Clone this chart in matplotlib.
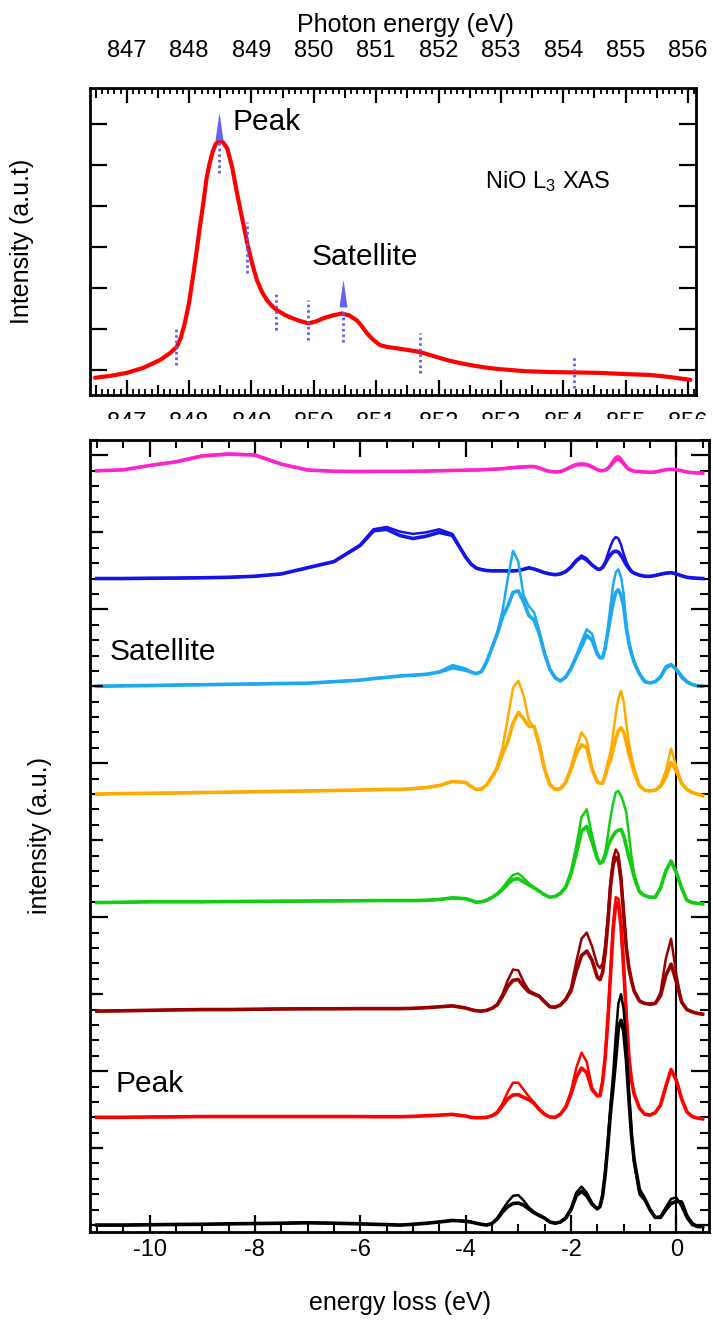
import numpy as np
import matplotlib
matplotlib.use("Agg")
import matplotlib.pyplot as plt
from matplotlib.ticker import MultipleLocator, FixedLocator, NullLocator, FormatStrFormatter
from matplotlib.patches import Rectangle

plt.rcParams['font.family'] = ['Liberation Sans', 'DejaVu Sans']
plt.rcParams['mathtext.fontset'] = 'custom'
plt.rcParams['mathtext.rm'] = 'Liberation Sans'
plt.rcParams['mathtext.it'] = 'Liberation Sans:italic'
plt.rcParams['mathtext.bf'] = 'Liberation Sans:bold'
plt.rcParams['axes.unicode_minus'] = False

# ---------------- NiO L3 XAS ----------------
xas_energy = [846.49, 846.75, 847.0, 847.26, 847.53, 847.70, 847.80, 847.87, 847.93, 848.00,
              848.06, 848.12, 848.17, 848.23, 848.28, 848.33, 848.38, 848.43, 848.48, 848.54,
              848.61, 848.69, 848.77, 848.85, 848.93, 849.01, 849.09, 849.17, 849.25, 849.33,
              849.41, 849.54, 849.66, 849.79, 849.91, 850.03, 850.15, 850.30, 850.45, 850.57,
              850.69, 850.77, 850.85, 850.95, 851.06, 851.18, 851.33, 851.50, 851.70, 851.92,
              852.14, 852.37, 852.59, 852.80, 852.99, 853.40, 853.79, 854.20, 854.59, 855.00,
              855.39, 855.70, 856.04]
xas_intensity = [0.81, 0.86, 0.93, 1.05, 1.24, 1.42, 1.56, 1.80, 2.14, 2.65,
                 3.26, 3.90, 4.47, 5.10, 5.68, 6.05, 6.34, 6.52, 6.60, 6.56,
                 6.41, 5.95, 5.30, 4.70, 4.11, 3.60, 3.18, 2.90, 2.70, 2.56,
                 2.46, 2.34, 2.26, 2.19, 2.14, 2.18, 2.26, 2.33, 2.38, 2.33,
                 2.21, 2.07, 1.90, 1.74, 1.61, 1.56, 1.53, 1.49, 1.44, 1.34,
                 1.24, 1.16, 1.10, 1.05, 1.02, 0.97, 0.95, 0.94, 0.93, 0.90,
                 0.88, 0.83, 0.76]

# excitation energies used for the RIXS spectra
exc_energy = [847.79, 848.48, 848.93, 849.40, 849.91, 850.47, 851.70, 854.17]
exc_low = [1.12, 5.80, 3.37, 1.98, 1.73, 1.68, 0.93, 0.56]
exc_high = [2.05, 6.61, 4.60, 2.90, 2.70, 2.49, 1.90, 1.37]

# peak and satellite arrows
arrow_energy = [848.48, 850.47]
arrow_base = [6.61, 2.54]

# ---------------- RIXS spectra: energy-loss grid ----------------
loss = [-11.0, -10.5, -10.0, -9.5, -9.0, -8.5, -8.0, -7.5, -7.0, -6.5, -6.0,
        -5.75, -5.5, -5.25, -5.0, -4.75, -4.5, -4.25, -4.0,
        -3.9, -3.8, -3.7, -3.6, -3.5, -3.4, -3.3, -3.2, -3.1, -3.0, -2.9, -2.8, -2.7, -2.6, -2.5,
        -2.4, -2.3, -2.2, -2.1, -2.0, -1.9, -1.8, -1.7, -1.6, -1.5,
        -1.45, -1.4, -1.35, -1.3, -1.25, -1.2, -1.15, -1.1, -1.05, -1.0, -0.95, -0.9, -0.85, -0.8,
        -0.7, -0.6, -0.5, -0.4, -0.3, -0.2, -0.1, 0.0, 0.1, 0.2, 0.3, 0.4, 0.5]

# two scans per excitation energy (a, b), intensity above each baseline
pink_a = [0.0, 0.06, 0.35, 0.6, 1.0, 1.12, 1.05, 0.45, 0.05, -0.03, -0.05,
          -0.04, -0.04, -0.04, -0.03, -0.02, 0.0, 0.02, 0.04,
          0.05, 0.05, 0.06, 0.08, 0.1, 0.13, 0.15, 0.2, 0.23, 0.26, 0.28, 0.3, 0.3, 0.2, 0.05,
          -0.04, -0.08, -0.05, 0.1, 0.3, 0.45, 0.48, 0.45, 0.3, 0.08,
          0.02, 0.0, 0.05, 0.18, 0.4, 0.68, 0.9, 0.95, 0.8, 0.55, 0.3, 0.12, 0.02, -0.03,
          -0.05, -0.08, -0.1, -0.08, 0.0, 0.07, 0.1, 0.07, 0.0, -0.08, -0.12, -0.14, -0.15]
pink_b = [0.0, 0.06, 0.34, 0.58, 0.96, 1.08, 1.02, 0.43, 0.05, -0.03, -0.05,
          -0.04, -0.04, -0.04, -0.03, -0.02, 0.0, 0.02, 0.04,
          0.05, 0.05, 0.06, 0.08, 0.1, 0.12, 0.13, 0.17, 0.2, 0.22, 0.24, 0.27, 0.27, 0.18, 0.05,
          -0.04, -0.08, -0.05, 0.08, 0.25, 0.38, 0.4, 0.38, 0.25, 0.07,
          0.02, 0.0, 0.05, 0.15, 0.32, 0.55, 0.7, 0.73, 0.62, 0.45, 0.25, 0.1, 0.02, -0.03,
          -0.05, -0.08, -0.1, -0.08, 0.0, 0.07, 0.1, 0.07, 0.0, -0.08, -0.12, -0.14, -0.15]

blue_a = [0.0, 0.0, 0.02, 0.03, 0.05, 0.08, 0.15, 0.3, 0.7, 1.1, 2.2,
          3.2, 3.35, 3.05, 2.9, 3.0, 3.2, 2.9, 1.4,
          0.95, 0.68, 0.58, 0.52, 0.5, 0.5, 0.5, 0.5, 0.5, 0.52, 0.6, 0.7, 0.62, 0.5, 0.38,
          0.3, 0.25, 0.3, 0.45, 0.75, 1.2, 1.5, 1.3, 0.9, 0.62,
          0.6, 0.75, 1.1, 1.6, 2.1, 2.5, 2.7, 2.6, 2.2, 1.6, 1.1, 0.75, 0.5, 0.35,
          0.22, 0.15, 0.14, 0.2, 0.28, 0.35, 0.38, 0.3, 0.18, 0.08, 0.04, 0.02, 0.0]
blue_b = [0.0, 0.0, 0.02, 0.03, 0.05, 0.08, 0.15, 0.3, 0.7, 1.1, 2.15,
          3.1, 3.2, 2.8, 2.6, 2.75, 3.0, 2.8, 1.4,
          0.95, 0.68, 0.58, 0.52, 0.5, 0.5, 0.5, 0.5, 0.5, 0.52, 0.6, 0.7, 0.62, 0.5, 0.38,
          0.3, 0.25, 0.3, 0.45, 0.75, 1.15, 1.4, 1.2, 0.88, 0.62,
          0.6, 0.72, 1.0, 1.3, 1.55, 1.72, 1.78, 1.72, 1.5, 1.2, 0.9, 0.65, 0.45, 0.35,
          0.22, 0.15, 0.14, 0.2, 0.28, 0.35, 0.38, 0.3, 0.18, 0.08, 0.04, 0.02, 0.0]

cyan_a = [0.0, 0.03, 0.05, 0.08, 0.1, 0.13, 0.15, 0.18, 0.2, 0.3, 0.4,
          0.5, 0.58, 0.67, 0.72, 0.78, 0.95, 1.38, 1.15,
          0.95, 0.82, 0.95, 1.6, 2.5, 3.5, 4.9, 7.0, 8.8, 8.1, 5.9, 5.2, 4.8, 3.6, 2.2,
          1.1, 0.55, 0.35, 0.6, 1.2, 2.0, 2.9, 3.7, 3.4, 2.2,
          1.85, 1.85, 2.6, 3.8, 5.2, 6.6, 7.4, 7.6, 7.1, 6.0, 4.0, 2.9, 2.2, 1.6,
          0.8, 0.3, 0.22, 0.3, 0.65, 1.3, 1.45, 1.05, 0.55, 0.25, 0.1, 0.03, 0.0]
cyan_b = [0.0, 0.03, 0.05, 0.08, 0.1, 0.13, 0.15, 0.18, 0.2, 0.3, 0.4,
          0.5, 0.58, 0.67, 0.72, 0.78, 0.92, 1.2, 1.05,
          0.92, 0.82, 0.95, 1.6, 2.5, 3.4, 4.5, 5.2, 6.1, 6.2, 5.5, 4.6, 4.3, 3.4, 2.1,
          1.1, 0.55, 0.35, 0.6, 1.15, 1.9, 2.6, 3.3, 3.0, 2.1,
          1.85, 1.85, 2.5, 3.5, 4.5, 5.4, 6.1, 6.27, 5.9, 5.2, 3.8, 2.8, 2.1, 1.55,
          0.8, 0.3, 0.22, 0.3, 0.6, 1.2, 1.4, 1.1, 0.65, 0.3, 0.12, 0.03, 0.0]

orange_a = [0.0, 0.03, 0.05, 0.07, 0.1, 0.12, 0.15, 0.18, 0.2, 0.23, 0.26,
            0.28, 0.3, 0.3, 0.35, 0.42, 0.55, 0.82, 0.75,
            0.5, 0.3, 0.32, 0.6, 1.1, 1.8, 3.0, 4.9, 6.9, 7.36, 6.4, 4.8, 4.3, 3.0, 1.6,
            0.6, 0.3, 0.35, 0.8, 1.8, 3.0, 4.0, 3.5, 1.7, 0.8,
            0.7, 0.7, 1.3, 2.1, 2.7, 3.9, 5.2, 6.2, 6.7, 6.0, 4.6, 3.3, 2.4, 1.7,
            0.55, 0.25, 0.2, 0.25, 0.6, 1.5, 2.95, 1.8, 0.7, 0.3, 0.1, 0.0, -0.1]
orange_b = [0.0, 0.03, 0.05, 0.07, 0.1, 0.12, 0.15, 0.18, 0.2, 0.23, 0.26,
            0.28, 0.3, 0.3, 0.35, 0.42, 0.55, 0.82, 0.75,
            0.5, 0.3, 0.32, 0.6, 1.1, 1.7, 2.6, 3.4, 4.6, 5.3, 4.9, 4.4, 4.4, 3.2, 1.6,
            0.6, 0.3, 0.35, 0.75, 1.6, 2.6, 3.2, 3.0, 1.6, 0.8,
            0.7, 0.7, 1.2, 1.8, 2.2, 2.9, 3.6, 4.1, 4.3, 4.0, 3.4, 2.6, 2.0, 1.4,
            0.55, 0.25, 0.2, 0.25, 0.5, 1.1, 2.05, 1.5, 0.7, 0.3, 0.1, 0.0, -0.1]

green_a = [-0.05, -0.03, 0.0, 0.0, 0.0, 0.02, 0.03, 0.04, 0.05, 0.06, 0.07,
           0.08, 0.08, 0.08, 0.08, 0.1, 0.15, 0.28, 0.22,
           0.1, -0.03, 0.0, 0.1, 0.28, 0.55, 0.9, 1.35, 1.75, 1.84, 1.55, 1.2, 0.95, 0.7, 0.45,
           0.3, 0.35, 0.55, 1.0, 2.0, 3.6, 5.5, 6.0, 4.3, 2.9,
           2.5, 2.7, 3.2, 4.3, 5.5, 6.4, 7.1, 7.2, 6.9, 6.4, 5.8, 4.4, 2.9, 1.8,
           0.65, 0.4, 0.3, 0.3, 0.9, 2.0, 2.65, 1.9, 0.9, 0.1, -0.05, -0.1, -0.13]
green_b = [-0.05, -0.03, 0.0, 0.0, 0.0, 0.02, 0.03, 0.04, 0.05, 0.06, 0.07,
           0.08, 0.08, 0.08, 0.08, 0.1, 0.15, 0.25, 0.2,
           0.1, -0.03, 0.0, 0.1, 0.28, 0.5, 0.8, 1.15, 1.45, 1.5, 1.3, 1.1, 0.9, 0.68, 0.45,
           0.3, 0.35, 0.55, 0.95, 1.8, 3.1, 4.6, 4.9, 3.9, 2.8,
           2.5, 2.6, 3.0, 3.6, 4.0, 4.3, 4.55, 4.65, 4.7, 4.3, 3.6, 2.9, 2.3, 1.6,
           0.65, 0.4, 0.3, 0.3, 0.9, 2.0, 2.65, 1.9, 0.9, 0.1, -0.05, -0.1, -0.13]

dred_a = [-0.1, -0.08, -0.05, -0.02, 0.0, 0.0, 0.02, 0.04, 0.05, 0.05, 0.06,
          0.06, 0.06, 0.06, 0.08, 0.12, 0.18, 0.24, 0.1,
          0.0, -0.08, -0.1, -0.05, 0.08, 0.35, 1.0, 1.9, 2.6, 2.55, 1.8, 1.25, 1.05, 0.9, 0.5,
          0.18, 0.15, 0.3, 0.7, 1.4, 3.1, 4.6, 5.0, 4.1, 2.9,
          2.7, 3.0, 4.2, 6.0, 8.3, 9.8, 10.4, 10.1, 8.7, 6.4, 4.2, 2.8, 1.9, 1.2,
          0.55, 0.4, 0.35, 0.4, 1.1, 3.3, 4.6, 2.3, 0.45, 0.0, -0.15, -0.25, -0.3]
dred_b = [-0.1, -0.08, -0.05, -0.02, 0.0, 0.0, 0.02, 0.04, 0.05, 0.05, 0.06,
          0.06, 0.06, 0.06, 0.08, 0.12, 0.18, 0.24, 0.1,
          0.0, -0.08, -0.1, -0.05, 0.08, 0.3, 0.85, 1.5, 1.9, 1.95, 1.5, 1.15, 1.0, 0.85, 0.5,
          0.18, 0.15, 0.3, 0.65, 1.2, 2.5, 3.5, 3.8, 3.2, 2.1,
          1.94, 2.4, 3.7, 5.6, 8.0, 9.4, 9.9, 9.7, 8.4, 6.2, 4.0, 2.7, 1.85, 1.2,
          0.55, 0.4, 0.35, 0.4, 0.9, 2.2, 2.95, 1.8, 0.5, 0.0, -0.15, -0.25, -0.3]

red_a = [0.0, 0.0, 0.02, 0.03, 0.05, 0.05, 0.05, 0.05, 0.05, 0.05, 0.05,
         0.04, 0.04, 0.04, 0.06, 0.1, 0.14, 0.19, 0.08,
         0.0, -0.03, -0.03, 0.0, 0.1, 0.35, 0.9, 1.65, 2.25, 2.25, 1.8, 1.35, 0.95, 0.5, 0.2,
         0.02, 0.0, 0.2, 0.7, 1.7, 3.2, 4.2, 3.6, 1.9, 1.4,
         1.4, 2.4, 4.0, 6.5, 9.5, 12.5, 14.3, 14.2, 12.8, 10.0, 6.8, 4.0, 2.4, 1.5,
         0.6, 0.2, 0.15, 0.3, 0.8, 2.0, 3.1, 2.4, 1.2, 0.35, 0.05, -0.05, -0.1]
red_b = [0.0, 0.0, 0.02, 0.03, 0.05, 0.05, 0.05, 0.05, 0.05, 0.05, 0.05,
         0.04, 0.04, 0.04, 0.06, 0.1, 0.14, 0.19, 0.08,
         0.0, -0.03, -0.03, 0.0, 0.1, 0.3, 0.75, 1.2, 1.45, 1.47, 1.3, 1.15, 0.9, 0.5, 0.2,
         0.02, 0.0, 0.2, 0.65, 1.5, 2.6, 3.2, 2.9, 1.8, 1.4,
         1.4, 2.3, 3.9, 6.3, 9.2, 12.2, 13.9, 13.9, 12.4, 9.7, 6.6, 3.9, 2.35, 1.5,
         0.6, 0.2, 0.15, 0.3, 0.8, 2.0, 3.1, 2.4, 1.2, 0.35, 0.05, -0.05, -0.1]

black_a = [0.0, 0.0, 0.02, 0.04, 0.05, 0.08, 0.1, 0.12, 0.15, 0.12, 0.08,
           0.05, 0.03, 0.0, 0.05, 0.12, 0.2, 0.3, 0.25,
           0.2, 0.12, 0.05, 0.0, 0.1, 0.45, 1.0, 1.5, 1.9, 1.95, 1.6, 1.15, 0.85, 0.65, 0.45,
           0.2, 0.12, 0.2, 0.5, 1.1, 2.1, 2.5, 2.1, 1.45, 1.05,
           1.2, 2.0, 3.5, 5.5, 7.8, 9.8, 12.3, 14.4, 15.0, 14.0, 11.8, 8.8, 6.0, 4.0,
           2.0, 1.6, 1.0, 0.5, 0.55, 1.15, 1.7, 1.8, 1.2, 0.46, 0.0, -0.1, -0.1]
black_b = [0.0, 0.0, 0.02, 0.04, 0.05, 0.08, 0.1, 0.12, 0.15, 0.12, 0.08,
           0.05, 0.03, 0.0, 0.05, 0.12, 0.2, 0.3, 0.25,
           0.2, 0.12, 0.05, 0.0, 0.1, 0.4, 0.85, 1.2, 1.4, 1.43, 1.3, 1.05, 0.8, 0.62, 0.45,
           0.2, 0.12, 0.2, 0.45, 1.0, 1.9, 2.2, 1.9, 1.35, 1.05,
           1.2, 1.9, 3.3, 5.2, 7.3, 9.0, 10.8, 12.8, 13.3, 12.6, 10.8, 8.2, 5.8, 4.2,
           2.3, 1.7, 1.0, 0.5, 0.5, 1.0, 1.4, 1.54, 1.5, 0.6, 0.1, -0.1, -0.1]

offsets = [49, 42, 35, 28, 21, 14, 7, 0]
colors = ['#ff22cc', '#1414e6', '#1ea8f0', '#ffaa00', '#14cc14', '#990000', '#ff0000', '#000000']
scans = [(pink_a, pink_b), (blue_a, blue_b), (cyan_a, cyan_b), (orange_a, orange_b),
         (green_a, green_b), (dred_a, dred_b), (red_a, red_b), (black_a, black_b)]

# ---------------- figure ----------------
W, H = 713, 1320
fig = plt.figure(figsize=(W / 100, H / 100), dpi=100)


def box(left, top, right, bottom):
    return [left / W, 1 - bottom / H, (right - left) / W, (bottom - top) / H]


ax1 = fig.add_axes(box(90, 88, 696, 395))
ax2 = fig.add_axes(box(90, 440, 709, 1232))

# ---- top panel: absorption spectrum ----
ax1.plot(xas_energy, xas_intensity, color='#ff0000', lw=3.0, solid_joinstyle='round',
         solid_capstyle='round', zorder=3)
ax1.vlines(exc_energy, exc_low, exc_high, colors='#5c5cf2', lw=2.0,
           linestyles=(0, (0.9, 1.1)), zorder=4)
tri = [(-0.5, 0.0), (0.5, 0.0), (0.0, 3.5)]
ax1.plot(arrow_energy, arrow_base, ls='none', marker=tri, ms=40, mfc='#6464f0',
         mec='none', zorder=5)

ax1.set_xlim(846.41, 856.13)
ax1.set_ylim(0.39, 7.88)

ax1m = ax1.twiny()
ax1m.set_xlim(ax1.get_xlim())
ax1m.xaxis.set_major_locator(FixedLocator(np.arange(846.5, 856.2, 1.0)))
ax1m.tick_params(axis='x', direction='in', top=True, bottom=True, labeltop=False,
                 labelbottom=False, length=7.5, width=1.5)
for s in ax1m.spines.values():
    s.set_visible(False)

ax1.xaxis.set_major_locator(MultipleLocator(1))
ax1.xaxis.set_minor_locator(MultipleLocator(0.1))
ax1.xaxis.set_major_formatter(FormatStrFormatter('%d'))
ax1.yaxis.set_major_locator(MultipleLocator(1))
ax1.yaxis.set_minor_locator(NullLocator())
ax1.tick_params(axis='x', which='major', direction='in', top=True, bottom=True, labeltop=True,
                labelbottom=False, length=11, width=1.6, pad=19, labelsize=17)
ax1.tick_params(axis='x', which='minor', direction='in', top=True, bottom=True, length=4.5,
                width=1.3)
ax1.tick_params(axis='y', which='major', direction='in', left=True, right=True,
                labelleft=False, labelright=False, length=12.5, width=1.6)
for s in ax1.spines.values():
    s.set_linewidth(2.0)

sec = ax1.secondary_xaxis('bottom')
sec.xaxis.set_major_locator(MultipleLocator(1))
sec.xaxis.set_major_formatter(FormatStrFormatter('%d'))
sec.tick_params(length=0, pad=12, labelsize=17)
sec.spines['bottom'].set_visible(False)

ax1.text(848.70, 6.85, 'Peak', fontsize=21.5, va='baseline')
ax1.text(849.97, 3.56, 'Satellite', fontsize=21.5, va='baseline')
ax1.text(852.75, 5.44, r'NiO L$_3$ XAS', fontsize=17, va='baseline')

fig.text(405 / W, 1 - 25 / H, 'Photon energy (eV)', ha='center', va='center', fontsize=18)
fig.text(22 / W, 1 - 241 / H, 'Intensity (a.u.t)', rotation=90, ha='center', va='center',
         fontsize=18)

# the lower tick labels of the top panel are cut off by the gap above the lower panel
fig.patches.append(Rectangle((0, 1 - 438 / H), 1, (438 - 419) / H, transform=fig.transFigure,
                             facecolor='white', edgecolor='none', zorder=2))

# ---- bottom panel: stacked RIXS spectra ----
for (a, b), off, c in zip(scans, offsets, colors):
    ax2.plot(loss, np.add(b, off), color=c, lw=2.6, solid_joinstyle='round')
    ax2.plot(loss, np.add(a, off), color=c, lw=1.8, solid_joinstyle='round')
ax2.axvline(0, color='black', lw=1.5, zorder=1)

ax2.set_xlim(-11.13, 0.62)
ax2.set_ylim(-0.45, 51.0)

ax2m = ax2.twinx()
ax2m.set_ylim(ax2.get_ylim())
ax2m.yaxis.set_major_locator(FixedLocator([5, 15, 25, 35, 45]))
ax2m.tick_params(axis='y', direction='in', left=True, right=True, labelleft=False,
                 labelright=False, length=9, width=1.6)
for s in ax2m.spines.values():
    s.set_visible(False)

ax2.xaxis.set_major_locator(MultipleLocator(2))
ax2.xaxis.set_minor_locator(MultipleLocator(0.5))
ax2.xaxis.set_major_formatter(FormatStrFormatter('%d'))
ax2.yaxis.set_major_locator(MultipleLocator(10))
ax2.yaxis.set_minor_locator(MultipleLocator(1))
ax2.tick_params(axis='x', which='major', direction='in', top=True, bottom=True, length=12,
                width=1.6, pad=5, labelsize=17)
ax2.tick_params(axis='x', which='minor', direction='in', top=True, bottom=True, length=6,
                width=1.5)
ax2.tick_params(axis='y', which='major', direction='in', left=True, right=True,
                labelleft=False, labelright=False, length=13, width=1.6)
ax2.tick_params(axis='y', which='minor', direction='in', left=True, right=True, length=6.5,
                width=1.5)
for s in ax2.spines.values():
    s.set_linewidth(2.0)

ax2.text(-10.75, 36.7, 'Satellite', fontsize=21.5, va='baseline')
ax2.text(-10.65, 8.64, 'Peak', fontsize=21.5, va='baseline')

fig.text(400 / W, 1 - 1303 / H, 'energy loss (eV)', ha='center', va='center', fontsize=18)
fig.text(40 / W, 1 - 836 / H, 'intensity (a.u.)', rotation=90, ha='center', va='center',
         fontsize=18)

fig.savefig('out.png', dpi=100)
